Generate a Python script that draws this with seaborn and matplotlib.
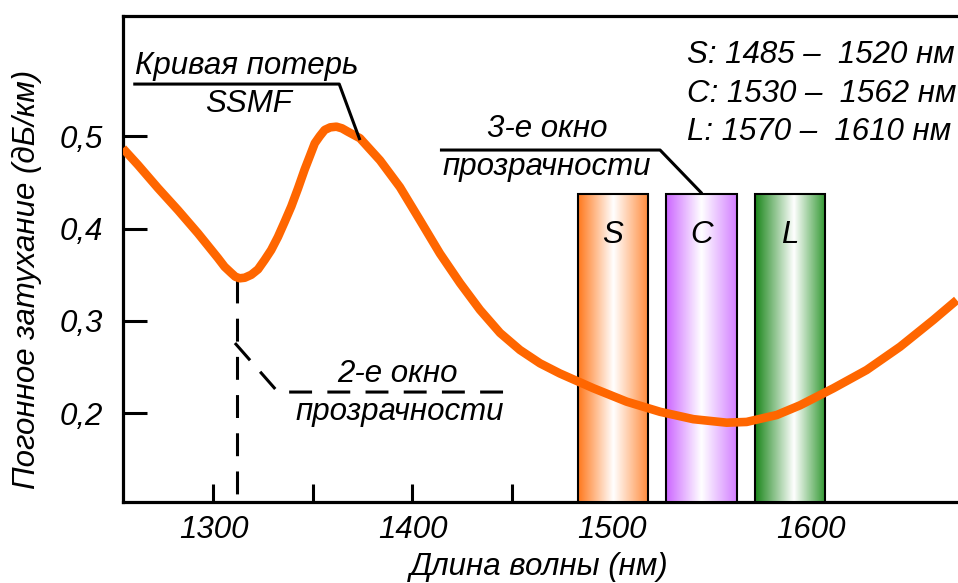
import numpy as np
import pandas as pd
import matplotlib
matplotlib.use("Agg")
import matplotlib.pyplot as plt
import seaborn as sns
from matplotlib.colors import to_rgb

# ---------------- data ----------------
wavelength_nm = [1254.5, 1262.1, 1272.1, 1282.2, 1292.2, 1302.3, 1305.6, 1308.9,
                 1311.0, 1313.2, 1315.7, 1319.0, 1322.4, 1325.7, 1329.0, 1332.4,
                 1335.8, 1339.1, 1342.5, 1345.8, 1348.3, 1350.9, 1353.4, 1355.9,
                 1358.7, 1361.8, 1364.6, 1367.6, 1373.6, 1383.7, 1393.7, 1403.8,
                 1413.8, 1423.9, 1433.9, 1444.0, 1454.0, 1464.1, 1474.1, 1490.9,
                 1507.6, 1524.4, 1541.1, 1557.9, 1567.9, 1583.0, 1594.7, 1611.5,
                 1628.2, 1645.0, 1661.7, 1673.5]
attenuation_db_km = [0.487, 0.469, 0.444, 0.420, 0.395, 0.368, 0.3587, 0.352,
                     0.3479, 0.3462, 0.3468, 0.350, 0.3559, 0.366, 0.3768, 0.391,
                     0.4075, 0.424, 0.4437, 0.464, 0.4779, 0.4925, 0.5002, 0.507,
                     0.5098, 0.5105, 0.5087, 0.505, 0.498, 0.474, 0.445, 0.409,
                     0.373, 0.341, 0.312, 0.287, 0.2685, 0.254, 0.243, 0.227,
                     0.2125, 0.2015, 0.1935, 0.1897, 0.1905, 0.198, 0.2085, 0.227,
                     0.2468, 0.272, 0.301, 0.3226]

band_names = ["S", "C", "L"]
band_start_nm = [1483.0, 1527.5, 1572.0]
band_end_nm = [1518.5, 1563.0, 1607.5]
band_top = 0.438
band_left_colors = ["#FF781C", "#CC66FF", "#1A861A"]
band_right_colors = ["#FF8A3A", "#D27EFF", "#2F972F"]
band_white_pos = [0.50, 0.50, 0.55]

band_ranges_text = ["S: 1485 \u2013  1520 нм",
                    "C: 1530 \u2013  1562 нм",
                    "L: 1570 \u2013  1610 нм"]

x_ticks_major = [1300, 1400, 1500, 1600]
x_tick_labels = ["1300", "1400", "1500", "1600"]
x_ticks_minor = [1350, 1450]
y_ticks = [0.2, 0.3, 0.4, 0.5]
y_tick_labels = ["0,2", "0,3", "0,4", "0,5"]

x_limits = (1254.3, 1674.1)
y_limits = (0.1034, 0.6308)

second_window_nm = 1311.8

# ---------------- style ----------------
sns.set_theme(style="white")
plt.rcParams["font.family"] = ["Liberation Sans", "DejaVu Sans"]
plt.rcParams["font.style"] = "italic"
for key in ["text.color", "axes.labelcolor", "xtick.color", "ytick.color",
            "axes.edgecolor"]:
    plt.rcParams[key] = "black"

FS = 22.5
fig = plt.figure(figsize=(9.58, 5.83), dpi=100)
ax = fig.add_axes([122.5 / 958, 1 - 502.3 / 583, 1 - 122.5 / 958,
                   (502.3 - 15.7) / 583])

# curve
df = pd.DataFrame({"nm": wavelength_nm, "att": attenuation_db_km})
sns.lineplot(data=df, x="nm", y="att", color="#FF6600", linewidth=6.2,
             ax=ax, zorder=6, sort=False)
for l in ax.lines:
    l.set_solid_capstyle("butt")
    l.set_solid_joinstyle("round")

# bands with horizontal gradient
white = np.array([1.0, 1.0, 1.0])
ybot = y_limits[0]
for i, name in enumerate(band_names):
    x0, x1 = band_start_nm[i], band_end_nm[i]
    bars = ax.bar([x0], [band_top - ybot], width=[x1 - x0], align="edge",
                  bottom=ybot, color="white", edgecolor="none", zorder=3)
    rect = bars.patches[0]
    n = 256
    t = np.linspace(0, 1, n)
    c = band_white_pos[i]
    lc = np.array(to_rgb(band_left_colors[i]))
    rc = np.array(to_rgb(band_right_colors[i]))
    img = np.zeros((1, n, 3))
    for k, tv in enumerate(t):
        if tv < c:
            f = (c - tv) / c
            col = white * (1 - f) + lc * f
        else:
            f = (tv - c) / (1 - c)
            col = white * (1 - f) + rc * f
        img[0, k] = col
    im = ax.imshow(img, extent=[x0, x1, ybot, band_top], aspect="auto",
                   zorder=3.2, interpolation="bicubic")
    im.set_clip_path(rect)
    ax.bar([x0], [band_top - ybot], width=[x1 - x0], align="edge", bottom=ybot,
           facecolor="none", edgecolor="black", linewidth=1.5, zorder=3.4)
    ax.text((x0 + x1) / 2, 0.3844, name, ha="center", va="baseline",
            fontsize=FS, color="black", zorder=4)

# band range text
for txt, yb in zip(band_ranges_text, [0.5791, 0.5375, 0.4960]):
    ax.text(1537.9, yb, txt, ha="left", va="baseline", fontsize=FS)

# annotation: loss curve
ax.text(1316.6, 0.5676, "Кривая потерь", ha="center", va="baseline", fontsize=FS)
ax.text(1317.8, 0.5267, "SSMF", ha="center", va="baseline", fontsize=FS)
ax.plot([1259.7, 1363.2, 1373.6], [0.5567, 0.5567, 0.496], color="black",
        lw=2.2, solid_capstyle="butt", zorder=7)

# annotation: 3rd window
ax.text(1467.6, 0.4996, "3-е окно", ha="center", va="baseline", fontsize=FS)
ax.text(1467.3, 0.4581, "прозрачности", ha="center", va="baseline", fontsize=FS)
ax.plot([1413.8, 1524.4, 1545.5], [0.4852, 0.4852, band_top], color="black",
        lw=2.2, solid_capstyle="butt", zorder=7)

# annotation: 2nd window (dashed)
ax.plot([second_window_nm, second_window_nm], [0.344, y_limits[0]], color="black",
        lw=2.2, dashes=(7.5, 5), zorder=2)
ax.plot([1310.8, 1332.4, 1449.0], [0.276, 0.2229, 0.2229], color="black",
        lw=2.2, dashes=(7.5, 5), zorder=2)
ax.text(1392.5, 0.2338, "2-е окно", ha="center", va="baseline", fontsize=FS)
ax.text(1393.7, 0.1926, "прозрачности", ha="center", va="baseline", fontsize=FS)

# axes
ax.set_xlim(*x_limits)
ax.set_ylim(*y_limits)
ax.set_xticks(x_ticks_major)
ax.set_xticklabels(x_tick_labels)
ax.set_xticks(x_ticks_minor, minor=True)
ax.set_yticks(y_ticks)
ax.set_yticklabels(y_tick_labels)
ax.tick_params(axis="x", which="both", direction="in", length=13, width=2.2,
               pad=9, labelsize=FS, colors="black", bottom=True)
ax.tick_params(axis="y", direction="in", length=17, width=2.2, pad=14,
               labelsize=FS, colors="black", left=True)
for s in ["left", "bottom", "top"]:
    ax.spines[s].set_linewidth(2.3)
    ax.spines[s].set_color("black")
ax.spines["right"].set_visible(False)
ax.set_xlabel("")
ax.set_ylabel("")
ax.set_facecolor("white")

fig.text(539 / 958, 1 - 575 / 583, "Длина волны (нм)", ha="center",
         va="baseline", fontsize=FS)
fig.text(27 / 958, 1 - 279 / 583, "Погонное затухание (дБ/км)", ha="center",
         va="center", rotation=90, fontsize=FS)

fig.savefig("out.png", dpi=100, facecolor="white")
